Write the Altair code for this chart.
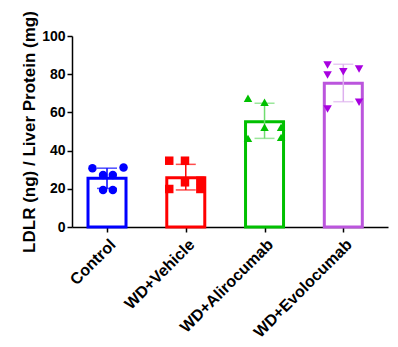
import altair as alt
import pandas as pd

groups = ["Control", "WD+Vehicle", "WD+Alirocumab", "WD+Evolocumab"]
bar_means = [25.5, 25.8, 55.1, 75.2]
err_lo = [20.2, 19.4, 46.4, 65.6]
err_hi = [30.8, 32.8, 64.8, 85.2]

pt_group = [0] * 6 + [1] * 6 + [2] * 6 + [3] * 6
pt_value = [30.7, 31.2, 27.2, 27.2, 19.4, 19.4,
            34.7, 34.7, 23.4, 19.9, 24.2, 19.9,
            67.4, 65.3, 52.2, 46.4, 52.2, 46.9,
            84.8, 79.6, 81.3, 82.7, 65.3, 61.8]
pt_jitter = [-0.185, 0.21, -0.05, 0.074, -0.05, 0.074,
             -0.21, -0.01, -0.01, -0.21, 0.185, 0.185,
             -0.21, 0.0, 0.0, -0.21, 0.21, 0.21,
             -0.2, -0.2, 0.0, 0.2, 0.2, -0.2]

bar_colors = ["#0000FF", "#FF0000", "#00C000", "#BB55DD"]
pt_colors = ["#0000FF", "#FF0000", "#00C000", "#A800E0"]
err_colors = ["#0000FF", "#FF0000", "#70DD70", "#DDB0EE"]
shapes = ["circle", "square", "triangle-up", "triangle-down"]

bars = pd.DataFrame({"idx": list(range(4)), "group": groups, "mean": bar_means,
                     "lo": err_lo, "hi": err_hi})
pts = pd.DataFrame({"idx": pt_group, "value": pt_value, "jit": pt_jitter})
pts["group"] = [groups[i] for i in pt_group]
pts["xpos"] = pts["idx"] + pts["jit"]

xscale = alt.Scale(domain=[-0.381, 3.504], nice=False, zero=False)
yscale = alt.Scale(domain=[0, 100], nice=False)
label_expr = "datum.value == 0 ? 'Control' : datum.value == 1 ? 'WD+Vehicle' : datum.value == 2 ? 'WD+Alirocumab' : 'WD+Evolocumab'"

xaxis = alt.Axis(values=[0, 1, 2, 3], labelExpr=label_expr, labelAngle=-45, title=None,
                 grid=False, domainColor="black", domainWidth=1.5, tickColor="black",
                 tickWidth=1.5, tickSize=5, labelFont="Liberation Sans", labelFontWeight="bold",
                 labelFontSize=16, labelColor="black", labelPadding=4, labelOverlap=False,
                 labelBound=False)
yaxis = alt.Axis(values=[0, 20, 40, 60, 80, 100], title="LDLR (ng) / Liver Protein (mg)",
                 grid=False, domainColor="black", domainWidth=1.5, tickColor="black",
                 tickWidth=1.5, tickSize=5, labelFont="Liberation Sans", labelFontWeight="bold",
                 labelFontSize=14, labelColor="black", titleFont="Liberation Sans",
                 titleFontWeight="bold", titleFontSize=17, titleColor="black", titlePadding=3,
                 labelPadding=2, labelOverlap=False, labelFlush=False)


def XX(f):
    return alt.X(f, scale=xscale, axis=xaxis)


def YY(f):
    return alt.Y(f, scale=yscale, axis=yaxis)


bar_layer = alt.Chart(bars).mark_bar(size=38, fill="white", strokeWidth=3).encode(
    x=XX("idx:Q"), y=YY("mean:Q"),
    stroke=alt.Stroke("group:N", scale=alt.Scale(domain=groups, range=bar_colors), legend=None),
)

err_rule = alt.Chart(bars).mark_rule(strokeWidth=1.5).encode(
    x=XX("idx:Q"), y=YY("lo:Q"), y2="hi:Q",
    color=alt.Color("group:N", scale=alt.Scale(domain=groups, range=err_colors), legend=None),
)
err_cap_hi = alt.Chart(bars).mark_tick(orient="horizontal", size=20, thickness=1.5).encode(
    x=XX("idx:Q"), y=YY("hi:Q"),
    color=alt.Color("group:N", scale=alt.Scale(domain=groups, range=err_colors), legend=None),
)
err_cap_lo = alt.Chart(bars).mark_tick(orient="horizontal", size=20, thickness=1.5).encode(
    x=XX("idx:Q"), y=YY("lo:Q"),
    color=alt.Color("group:N", scale=alt.Scale(domain=groups, range=err_colors), legend=None),
)

pt_layer = alt.Chart(pts).mark_point(filled=True, size=72, opacity=1).encode(
    x=XX("xpos:Q"), y=YY("value:Q"),
    color=alt.Color("group:N", scale=alt.Scale(domain=groups, range=pt_colors), legend=None),
    shape=alt.Shape("group:N", scale=alt.Scale(domain=groups, range=shapes), legend=None),
)

chart = alt.layer(bar_layer, err_rule, err_cap_hi, err_cap_lo, pt_layer).resolve_scale(
    color="independent", stroke="independent"
).properties(
    width=316, height=191,
    autosize=alt.AutoSizeParams(type="none"),
    padding={"left": 72, "top": 36, "right": 10, "bottom": 120},
    background="white",
).configure_view(stroke=None)

chart.save("out.html", embed_options={"renderer": "svg", "actions": False})
